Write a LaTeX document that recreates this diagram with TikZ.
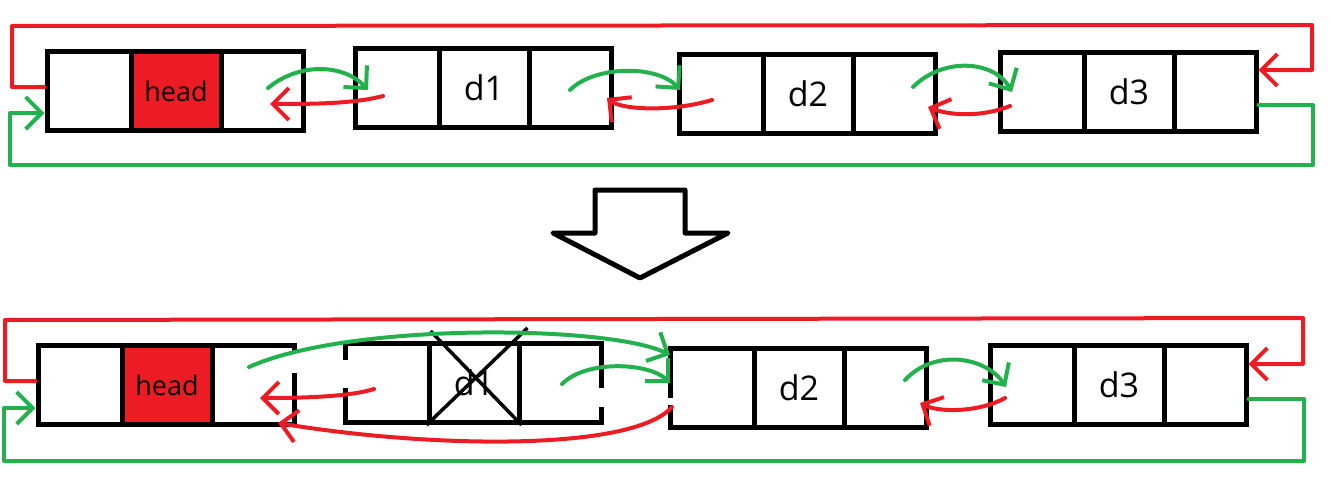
\documentclass[tikz,border=0pt]{standalone}
\usepackage{fontspec}
\setmainfont{Open Sans}
\usetikzlibrary{arrows.meta}
\definecolor{paintred}{RGB}{237,28,36}
\definecolor{paintgreen}{RGB}{34,177,76}

\begin{document}
\begin{tikzpicture}[
    x=1pt, y=-1pt,
    cell/.style={draw=black, line width=5pt, minimum height=79pt,
        inner sep=0pt, font=\fontsize{34}{34}\selectfont},
    lcell/.style={cell, minimum width=84pt},
    mcell/.style={cell, minimum width=90pt},
    rcell/.style={cell, minimum width=82pt},
    headcell/.style={mcell, fill=paintred, font=\fontsize{27}{27}\selectfont},
    link/.style={line width=4pt, line cap=round, line join=round,
        -{Straight Barb[length=16pt, width=32pt]}},
    nextlink/.style={link, draw=paintgreen},
    prevlink/.style={link, draw=paintred},
    gap/.style={draw=white, line width=8pt},
    cross/.style={draw=black, line width=3.5pt}
]
    \useasboundingbox (0,0) rectangle (1329,495);

    % before
    \node[lcell] (th-l) at (89,91) {};
    \node[rcell] (th-r) at (262,91) {};
    \node[headcell] (th-m) at (176,91) {head};
    \node[lcell] (t1-l) at (397,88) {};
    \node[rcell] (t1-r) at (570,88) {};
    \node[mcell] (t1-m) at (484,88) {d1};
    \node[lcell] (t2-l) at (721,94) {};
    \node[rcell] (t2-r) at (894,94) {};
    \node[mcell] (t2-m) at (808,94) {d2};
    \node[lcell] (t3-l) at (1042,92) {};
    \node[rcell] (t3-r) at (1215,92) {};
    \node[mcell] (t3-m) at (1129,92) {d3};

    % after
    \node[lcell] (bh-l) at (80,385) {};
    \node[rcell] (bh-r) at (253,385) {};
    \node[headcell] (bh-m) at (167,385) {head};
    \node[lcell] (b1-l) at (387,383) {};
    \node[rcell] (b1-r) at (560,383) {};
    \node[mcell] (b1-m) at (474,383) {d1};
    \node[lcell] (b2-l) at (712,388) {};
    \node[rcell] (b2-r) at (885,388) {};
    \node[mcell] (b2-m) at (799,388) {d2};
    \node[lcell] (b3-l) at (1032,385) {};
    \node[rcell] (b3-r) at (1205,385) {};
    \node[mcell] (b3-m) at (1119,385) {d3};

    \coordinate (top-nw) at (12,26);
    \coordinate (top-ne) at (1312,25);
    \coordinate (top-se) at (1313,165);
    \coordinate (top-sw) at (10,165);
    \coordinate (bot-nw) at (5,320);
    \coordinate (bot-ne) at (1303,318);
    \coordinate (bot-se) at (1304,461);
    \coordinate (bot-sw) at (4,461);

    % broken edges
    \draw[gap] ([shift={(41,-34)}]bh-r.center) -- ([shift={(41,-12)}]bh-r.center);
    \draw[gap] ([shift={(-42,-23)}]b1-l.center) -- ([shift={(-42,5)}]b1-l.center);
    \draw[gap] ([shift={(41,5)}]b1-r.center) -- ([shift={(41,24)}]b1-r.center);
    \draw[gap] ([shift={(-42,10)}]b2-l.center) -- ([shift={(-42,17)}]b2-l.center);
    \draw[cross] ([shift={(4,-10)}]b1-m.north west) -- (b1-m.south east);
    \draw[cross] ([shift={(6,-13)}]b1-m.north east) -- (b1-m.south west);

    % down arrow
    \draw[line width=5pt, line join=round] (595,190) -- (685,190) -- (685,233)
        -- (728,233) -- (640,278) -- (553,233) -- (595,233) -- cycle;

    % top row links
    \draw[prevlink] ([shift={(0,-4)}]th-l.west) -| (top-nw) -- (top-ne)
        |- ([shift={(0,-22)}]t3-r.east);
    \draw[nextlink] ([shift={(0,13)}]t3-r.east) -| (top-se) -- (top-sw)
        |- ([shift={(0,22)}]th-l.west);
    \draw[nextlink] ([shift={(6,-3)}]th-r.center) .. controls +(30,-25) and +(-25,-27) .. ([shift={(-29,2)}]t1-l.center);
    \draw[prevlink] ([shift={(-14,8)}]t1-l.center) .. controls +(-30,8) and +(40,0) .. ([shift={(8,13)}]th-r.center);
    \draw[nextlink] ([shift={(0,2)}]t1-r.center) .. controls +(25,-25) and +(-22,-25) .. ([shift={(-41,-4)}]t2-l.center);
    \draw[prevlink] ([shift={(-9,6)}]t2-l.center) .. controls +(-40,12) and +(15,12) .. ([shift={(37,10)}]t1-r.center);
    \draw[nextlink] ([shift={(19,-7)}]t2-r.center) .. controls +(30,-30) and +(-18,-32) .. ([shift={(-30,0)}]t3-l.center);
    \draw[prevlink] ([shift={(-32,14)}]t3-l.center) .. controls +(-30,12) and +(20,8) .. ([shift={(34,13)}]t2-r.center);

    % bottom row links
    \draw[prevlink] ([shift={(0,-4)}]bh-l.west) -| (bot-nw) -- (bot-ne)
        |- ([shift={(0,-21)}]b3-r.east);
    \draw[nextlink] ([shift={(0,14)}]b3-r.east) -| (bot-se) -- (bot-sw)
        |- ([shift={(0,23)}]bh-l.west);
    \draw[nextlink] ([shift={(-4,-18)}]bh-r.center) .. controls +(100,-45) and +(-60,-30) .. ([shift={(-42,-33)}]b2-l.center);
    \draw[nextlink] ([shift={(2,1)}]b1-r.center) .. controls +(25,-25) and +(-20,-20) .. ([shift={(-42,-5)}]b2-l.center);
    \draw[prevlink] ([shift={(-13,6)}]b1-l.center) .. controls +(-25,8) and +(40,0) .. ([shift={(7,13)}]bh-r.center);
    \draw[prevlink] ([shift={(-40,19)}]b2-l.center) .. controls +(-40,45) and +(150,25) .. ([shift={(25,38)}]bh-r.center);
    \draw[nextlink] ([shift={(20,-8)}]b2-r.center) .. controls +(30,-32) and +(-20,-30) .. ([shift={(-26,2)}]b3-l.center);
    \draw[prevlink] ([shift={(-27,13)}]b3-l.center) .. controls +(-25,14) and +(20,10) .. ([shift={(35,15)}]b2-r.center);
\end{tikzpicture}
\end{document}
